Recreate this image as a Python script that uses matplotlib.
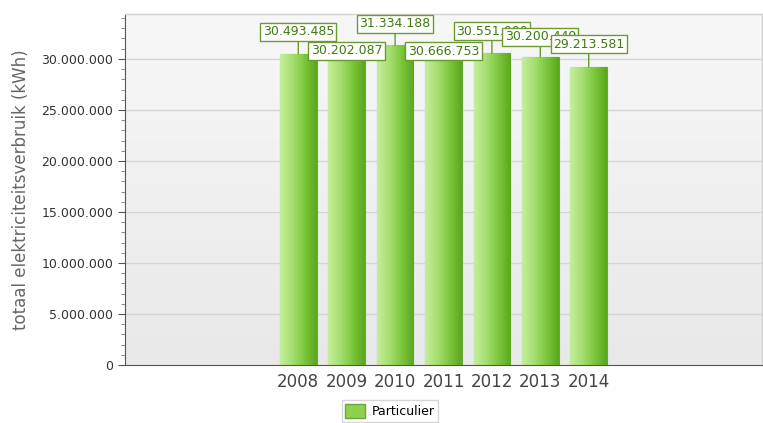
import matplotlib
matplotlib.use("Agg")
import matplotlib.pyplot as plt
import numpy as np
from matplotlib.ticker import FuncFormatter, MultipleLocator
from matplotlib.colors import LinearSegmentedColormap
from matplotlib.patches import Patch

years = ["2008", "2009", "2010", "2011", "2012", "2013", "2014"]
values = [30493485, 30202087, 31334188, 30666753, 30551000, 30200449, 29213581]
series_name = "Particulier"
ylabel = "totaal elektriciteitsverbruik (kWh)"

# label vertical offsets (pixels above bar top) - layout only
label_offsets = [22, 6, 21.5, 1, 22, 20, 22.5]

W, H = 763, 423
fig = plt.figure(figsize=(W / 100, H / 100), dpi=100)
fig.patch.set_facecolor("white")
ax = fig.add_axes([125 / W, 1 - 365 / H, 637 / W, 351 / H])

def fmt(v, pos=None):
    return f"{int(round(v)):,}".replace(",", ".")

# background gradient
bg = LinearSegmentedColormap.from_list("bg", ["#e9e9e9", "#f7f7f7"])
ymax = 34.4e6
xlim = (3 - 6.58, 3 + 6.58)
grad_h = np.linspace(0, 1, 100).reshape(-1, 1)
ax.imshow(grad_h, extent=[xlim[0], xlim[1], 0, ymax], aspect="auto", cmap=bg,
          origin="lower", zorder=0)

for yv in range(5000000, 35000000, 5000000):
    ax.axhline(yv, color="#d6d6d6", lw=1, zorder=1)

x = np.arange(len(years))
bars = ax.bar(x, values, width=0.76, color="#8fd050", edgecolor="#6aa83a",
              linewidth=0.8, zorder=2)
gcm = LinearSegmentedColormap.from_list("g", ["#c4ee9c", "#a6df70", "#7cc63e", "#5aa81c"])
grad = np.linspace(0, 1, 100).reshape(1, -1)
for b in bars:
    x0, w, h = b.get_x(), b.get_width(), b.get_height()
    im = ax.imshow(grad, extent=[x0, x0 + w, 0, h], aspect="auto", cmap=gcm, zorder=2.5)
    im.set_clip_path(b)

for i, (xi, v) in enumerate(zip(x, values)):
    ax.annotate(fmt(v), xy=(xi, v), xytext=(0, label_offsets[i]),
                textcoords="offset pixels", ha="center", va="center",
                fontsize=9, color="#3f7a10",
                bbox=dict(boxstyle="square,pad=0.2", fc="white", ec="#6a9a30", lw=1),
                arrowprops=dict(arrowstyle="-", color="#6a9a30", lw=1, shrinkA=0, shrinkB=0),
                zorder=5 + i)

ax.set_xlim(*xlim)
ax.set_ylim(0, ymax)
ax.set_xticks(x)
ax.set_xticklabels(years, fontsize=12, color="#444444")
ax.tick_params(axis="x", length=0, pad=6)
ax.yaxis.set_major_locator(MultipleLocator(5000000))
ax.yaxis.set_minor_locator(MultipleLocator(1000000))
ax.yaxis.set_major_formatter(FuncFormatter(fmt))
ax.tick_params(axis="y", labelsize=9, colors="#555555", length=5, width=0.8)
ax.tick_params(axis="y", which="minor", length=3, width=0.6, colors="#777777")
for lab in ax.get_yticklabels():
    lab.set_color("#333333")
ax.set_ylabel(ylabel, fontsize=12, color="#666666", labelpad=8)

for s in ["top", "right"]:
    ax.spines[s].set_color("#d0d0d0")
    ax.spines[s].set_linewidth(1)
ax.spines["left"].set_color("#555555")
ax.spines["bottom"].set_color("#555555")

leg = fig.legend(handles=[Patch(facecolor="#8fd050", edgecolor="#6aa83a", label=series_name)],
                 loc="center", bbox_to_anchor=(390 / W, 1 - 411 / H), fontsize=9,
                 frameon=True, fancybox=False, edgecolor="#cccccc",
                 handlelength=1.6, handleheight=1.3, borderpad=0.3, handletextpad=0.5)

fig.savefig("out.png", dpi=100)
